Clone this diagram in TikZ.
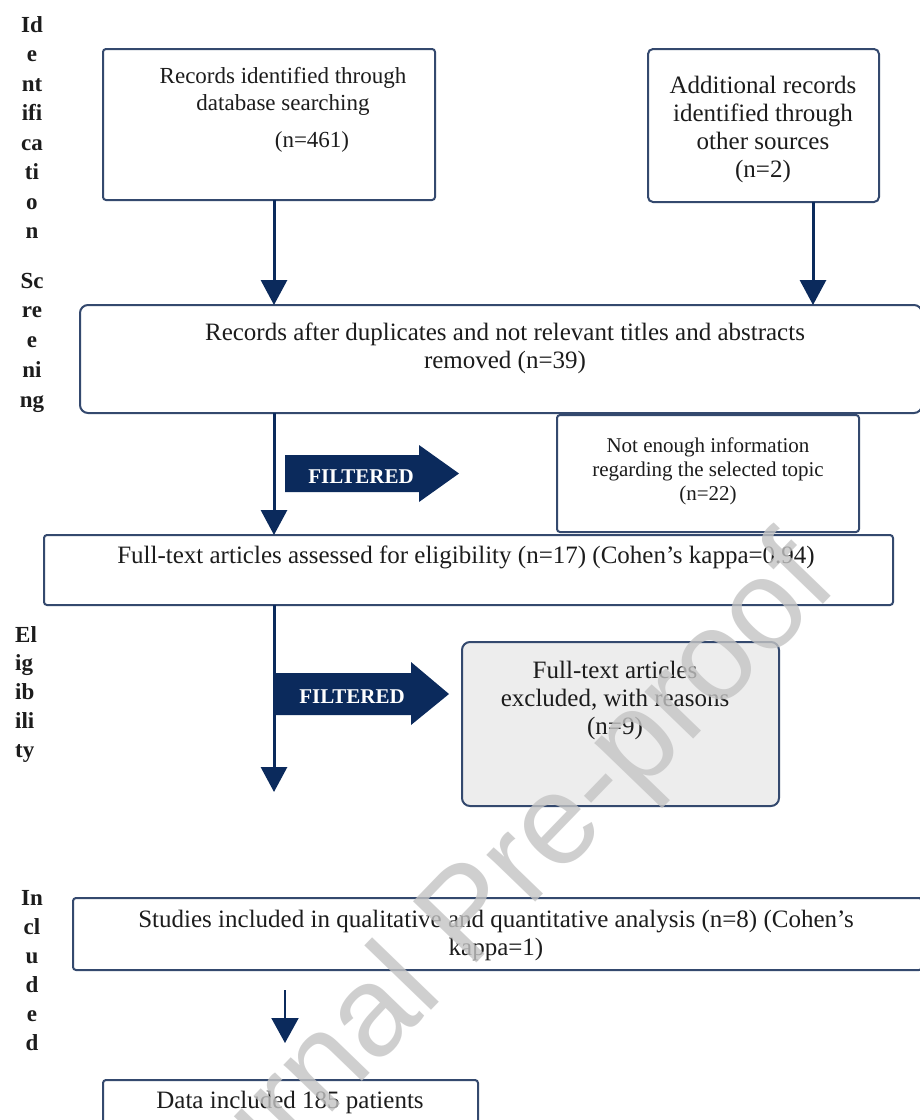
\documentclass[tikz,border=0pt]{standalone}
\usepackage{fontspec}
\setmainfont{Liberation Serif}
\newfontfamily\markfont{Liberation Sans}
\usetikzlibrary{arrows.meta}
\definecolor{navy}{HTML}{0B2A5C}
\definecolor{edge}{HTML}{34496E}
\definecolor{shade}{HTML}{EDEDED}
\definecolor{mark}{HTML}{C4C4C4}
\definecolor{ink}{HTML}{1C1C1C}

\begin{document}
\begin{tikzpicture}[x=1pt,y=-1pt,
	box/.style={draw=edge,line width=2pt,rounded corners=3pt,inner sep=0pt,outer sep=0pt},
	txt/.style={font=\fontsize{25}{28}\selectfont,align=center,inner sep=0pt,text=ink,anchor=base},
	side/.style={font=\fontsize{23}{23}\selectfont\bfseries,inner sep=0pt,anchor=base,text=ink},
	flow/.style={draw=navy,line width=3pt,-{Triangle[width=26pt,length=25pt]}},
	tag/.style={font=\fontsize{21}{21}\selectfont\bfseries,text=white,inner sep=0pt,anchor=base}]

	\useasboundingbox (0,0) rectangle (920,1120);
	\fill[white] (0,0) rectangle (920,1120);

	\foreach \s [count=\i] in {Id,e,nt,ifi,ca,ti,o,n}
		\node[side] (ident-\i) at (32,2.5+29.5*\i) {\s};
	\foreach \s [count=\i] in {Sc,re,e,ni,ng}
		\node[side] (screen-\i) at (32,258.2+29.8*\i) {\s};
	\foreach \s [count=\i] in {El,ig,ib,ili,ty}
		\node[side,anchor=base west] (elig-\i) at (15,613.25+28.75*\i) {\s};
	\foreach \s [count=\i] in {In,cl,u,d,e,d}
		\node[side] (incl-\i) at (32,876+29*\i) {\s};

	\node[box,minimum width=332pt,minimum height=151pt] (search) at (269,124.5) {};
	\node[box,rounded corners=5pt,minimum width=231pt,minimum height=153pt] (other) at (763.5,125.5) {};
	\node[box,rounded corners=8pt,minimum width=842pt,minimum height=108pt] (dup) at (501,359) {};
	\node[box,minimum width=302pt,minimum height=117pt] (topic) at (708,473.5) {};
	\node[box,minimum width=849pt,minimum height=70pt] (full) at (468.5,570) {};
	\node[box,fill=shade,rounded corners=8pt,minimum width=317pt,minimum height=164pt] (excl) at (620.5,724) {};
	\node[box,minimum width=849pt,minimum height=72pt] (incl) at (497.5,934) {};
	\node[box,minimum width=375pt,minimum height=45pt] (data) at (290.5,1102.5) {};

	\node[txt,font=\fontsize{23}{27}\selectfont] (search-t) at (283,110) {Records identified through\\database searching};
	\node[txt,font=\fontsize{23}{27}\selectfont] (search-n) at (312,147) {(n=461)};
	\node[txt] (other-t) at (763,177) {Additional records\\identified through\\other sources\\(n=2)};
	\node[txt] (dup-t) at (505,368) {Records after duplicates and not relevant titles and abstracts\\removed (n=39)};
	\node[txt,font=\fontsize{21}{24}\selectfont] (topic-t) at (708,500) {Not enough information\\regarding the selected topic\\(n=22)};
	\node[txt] (full-t) at (466,563) {Full-text articles assessed for eligibility (n=17) (Cohen's kappa=0.94)};
	\node[txt] (excl-t) at (615,734) {Full-text articles\\excluded, with reasons\\(n=9)};
	\node[txt] (incl-t) at (496,955) {Studies included in qualitative and quantitative analysis (n=8) (Cohen's\\kappa=1)};
	\node[txt] (data-t) at (290,1108) {Data included 185 patients};

	\coordinate (spine) at (274,0);
	\coordinate (spine2) at (285,0);
	\coordinate (side) at (813,0);
	\coordinate (halt) at (274,792);

	\draw[flow] (spine |- search.south) -- (spine |- dup.north);
	\draw[flow] (side |- other.south) -- (side |- dup.north);
	\draw[flow] (spine |- dup.south) -- (spine |- full.north);
	\draw[flow] (spine |- full.south) -- (halt);
	\draw[flow,line width=2pt,-{Triangle[width=27pt,length=25pt]},shorten <=20pt,shorten >=37pt] (spine2 |- incl.south) -- (spine2 |- data.north);

	\fill[navy] (285,455) -- (419,455) -- (419,445) -- (459,473.5) -- (419,502) -- (419,492) -- (285,492) -- cycle;
	\node[tag] (filt-a) at (361,483) {FILTERED};
	\fill[navy] (276,673) -- (411,673) -- (411,662) -- (449,694) -- (411,725) -- (411,715) -- (276,715) -- cycle;
	\node[tag] (filt-b) at (352,703) {FILTERED};

	\node[font=\markfont\fontsize{128}{128}\selectfont,text=mark,opacity=0.8,rotate=46,anchor=base] (mark) at (497,942) {Journal Pre-proof};
\end{tikzpicture}
\end{document}
